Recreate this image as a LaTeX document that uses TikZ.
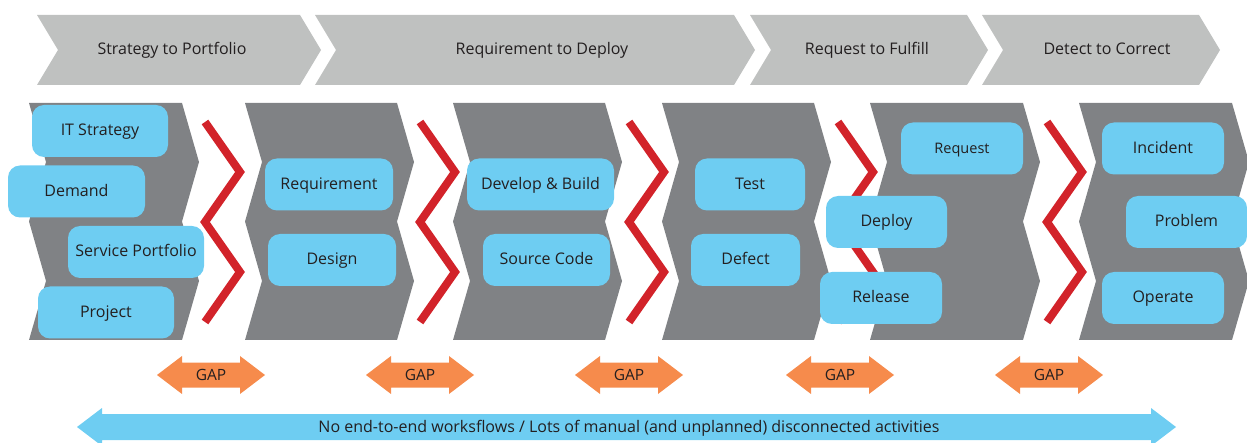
\documentclass[tikz,border=0pt]{standalone}
\usepackage{fontspec}
\setmainfont{Open Sans}
\definecolor{topgray}{HTML}{BFC1C0}
\definecolor{midgray}{HTML}{808285}
\definecolor{boxblue}{HTML}{6ECDF2}
\definecolor{zigred}{HTML}{D2232A}
\definecolor{gaporange}{HTML}{F68B4C}
\definecolor{txt}{HTML}{231F20}
\tikzset{
  toplbl/.style={font=\fontsize{16}{18}\selectfont, text=txt, text height=1em, text depth=0pt, inner sep=0pt},
  blk/.style={rounded corners=12pt, fill=boxblue, draw=none, minimum height=52pt, inner sep=0pt,
    font=\fontsize{16}{18}\selectfont, text=txt, text height=1em, text depth=0pt},
  zig/.style={draw=zigred, line width=8pt, line join=miter, line cap=butt},
  gaplbl/.style={font=\fontsize{15.5}{17}\selectfont, text=txt, text height=1em, text depth=0pt, inner sep=0pt},
  botlbl/.style={font=\fontsize{16}{18}\selectfont, text=txt, text height=1em, text depth=0pt, inner sep=0pt}
}
\begin{document}
\begin{tikzpicture}[x=1pt,y=-1pt]
\useasboundingbox (0,0) rectangle (1247,443);
% top chevrons
\fill[topgray] (37,15) -- (300,15) -- (321,50) -- (300,85) -- (37,85) -- (58,50) -- cycle;
\fill[topgray] (315,15) -- (734,15) -- (755,50) -- (734,85) -- (315,85) -- (336,50) -- cycle;
\fill[topgray] (750,15) -- (967,15) -- (988,50) -- (967,85) -- (750,85) -- (771,50) -- cycle;
\fill[topgray] (982,15) -- (1199,15) -- (1220,50) -- (1199,85) -- (982,85) -- (1003,50) -- cycle;
\node[toplbl] (s2p) at (172,50) {Strategy to Portfolio};
\node[toplbl] (r2d) at (542,50) {Requirement to Deploy};
\node[toplbl] (r2f) at (867,50) {Request to Fulfill};
\node[toplbl] (d2c) at (1107,50) {Detect to Correct};
% gray double chevrons
\foreach \L/\R in {29/182, 245/397, 453/605, 662/814, 870/1023, 1079/1232} {
  \fill[midgray] (\L,103) -- (\R,103) -- (\R+17,162) -- (\R,221.5) -- (\R+17,281) -- (\R,340)
    -- (\L,340) -- (\L+17,281) -- (\L,221.5) -- (\L+17,162) -- cycle;
}
% red zigzags
\foreach \a/\b in {205/240, 420/455, 629/664, 838/873, 1047/1082} {
  \draw[zig] (\a,122) -- (\b,172) -- (\a,222) -- (\b,272) -- (\a,322);
}
% blue boxes
\node[blk, minimum width=136pt] (itstrat) at (100,131) {IT Strategy};
\node[blk, minimum width=137pt] (demand) at (76.5,191.5) {Demand};
\node[blk, minimum width=136pt] (servport) at (136,252) {Service Portfolio};
\node[blk, minimum width=136pt] (project) at (106,312.5) {Project};
\node[blk, minimum width=128pt] (requirement) at (329,184.5) {Requirement};
\node[blk, minimum width=128pt] (design) at (332,260) {Design};
\node[blk, minimum width=147pt] (devbuild) at (540.5,184.5) {Develop \& Build};
\node[blk, minimum width=127pt] (srccode) at (546.5,260) {Source Code};
\node[blk, minimum width=110pt] (test) at (750,184.5) {Test};
\node[blk, minimum width=109pt] (defect) at (745.5,260) {Defect};
\node[blk, minimum width=121pt] (deploy) at (886.5,222) {Deploy};
\node[blk, minimum width=122pt] (release) at (881,298) {Release};
\node[blk, minimum width=122pt, font=\fontsize{14.5}{16}\selectfont] (request) at (962,148.5) {Request};
\node[blk, minimum width=122pt] (incident) at (1163,148.5) {Incident};
\node[blk, minimum width=121pt] (problem) at (1186.5,222) {Problem};
\node[blk, minimum width=122pt] (operate) at (1163,298) {Operate};
% GAP arrows
\foreach \c [count=\i] in {211,420,629,840,1049} {
  \fill[gaporange] (\c-54,375) -- (\c-29,356) -- (\c-29,362.5) -- (\c+29,362.5) -- (\c+29,356)
    -- (\c+54,375) -- (\c+29,394) -- (\c+29,387.5) -- (\c-29,387.5) -- (\c-29,394) -- cycle;
  \node[gaplbl] (gap\i) at (\c,375) {GAP};
}
% bottom arrow
\fill[boxblue] (77,427) -- (102,408) -- (102,414) -- (1151,414) -- (1151,408) -- (1176,427)
  -- (1151,446) -- (1151,440) -- (102,440) -- (102,446) -- cycle;
\node[botlbl] (noe2e) at (629,427) {No end-to-end worksflows / Lots of manual (and unplanned) disconnected activities};
\end{tikzpicture}
\end{document}
